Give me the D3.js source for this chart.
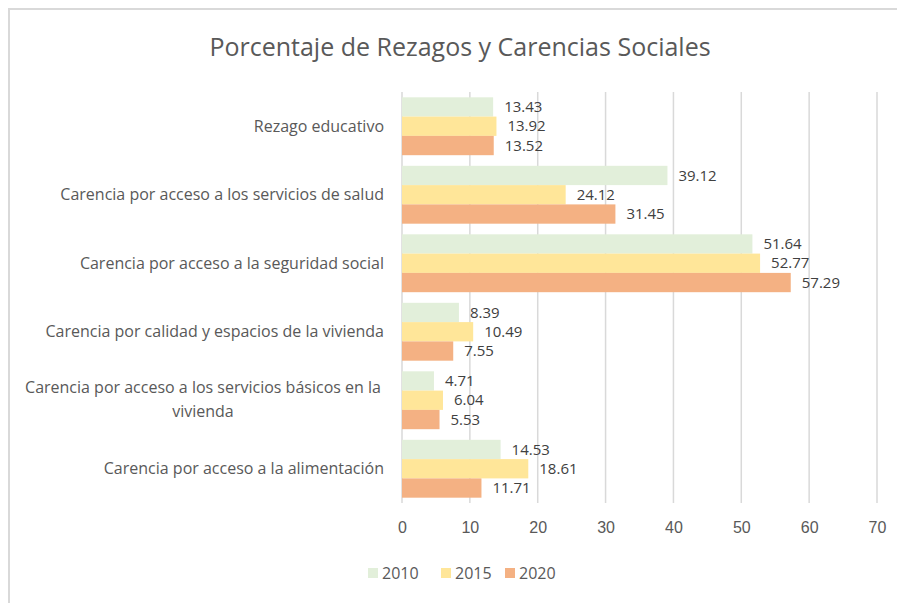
<!DOCTYPE html>
<html>
<head>
<meta charset="utf-8">
<script src="https://cdn.jsdelivr.net/npm/d3@7"></script>
<style>
  body { margin: 0; background: #fff; }
  svg { display: block; font-family: "Open Sans", Lato, sans-serif; }
</style>
</head>
<body>
<div id="chart"></div>
<script>
"use strict";

// Categories (top to bottom) and series values
const categories = [
    "Rezago educativo",
    "Carencia por acceso a los servicios de salud",
    "Carencia por acceso a la seguridad social",
    "Carencia por calidad y espacios de la vivienda",
    "Carencia por acceso a los servicios básicos en la vivienda",
    "Carencia por acceso a la alimentación"
];
const years = ["2010", "2015", "2020"];
const values2010 = [13.43, 39.12, 51.64, 8.39, 4.71, 14.53];
const values2015 = [13.92, 24.12, 52.77, 10.49, 6.04, 18.61];
const values2020 = [13.52, 31.45, 57.29, 7.55, 5.53, 11.71];
const xTicks = [0, 10, 20, 30, 40, 50, 60, 70];
const colors = ["#e2efda", "#ffe699", "#f4b183"];

const series = [values2010, values2015, values2020];
const width = 897, height = 603;

const svg = d3.select("#chart").append("svg")
    .attr("width", width)
    .attr("height", height);

// chart area border (only left and top visible in the picture)
svg.append("path")
    .attr("d", `M9,${height} V9 H${width}`)
    .attr("fill", "none")
    .attr("stroke", "#d9d9d9")
    .attr("stroke-width", 2);

svg.append("text")
    .attr("x", 460)
    .attr("y", 56)
    .attr("text-anchor", "middle")
    .attr("fill", "#595959")
    .attr("font-size", 25)
    .text("Porcentaje de Rezagos y Carencias Sociales");

const x = d3.scaleLinear([0, 70], [402, 877]);
const y = d3.scaleBand(categories, [92, 503]).paddingInner(0.155).paddingOuter(0.0775);
const ySub = d3.scaleBand(years, [0, y.bandwidth()]);

// gridlines
svg.append("g")
    .selectAll("line")
    .data(xTicks)
    .join("line")
    .attr("x1", d => x(d))
    .attr("x2", d => x(d))
    .attr("y1", 92)
    .attr("y2", 503)
    .attr("stroke", "#d9d9d9")
    .attr("stroke-width", 1.5);

// x axis labels
svg.append("g")
    .attr("transform", "translate(0,503)")
    .call(d3.axisBottom(x).tickValues(xTicks).tickSize(0).tickPadding(19))
    .call(g => g.select(".domain").remove())
    .call(g => g.selectAll("text")
        .attr("fill", "#595959")
        .attr("font-size", 16)
        .attr("font-family", null));

// bars
const groups = svg.append("g")
    .selectAll("g")
    .data(categories)
    .join("g")
    .attr("transform", d => `translate(0,${y(d)})`);

groups.selectAll("rect")
    .data((d, i) => years.map((yr, s) => ({ yr, s, v: series[s][i] })))
    .join("rect")
    .attr("x", x(0))
    .attr("y", d => ySub(d.yr))
    .attr("width", d => x(d.v) - x(0))
    .attr("height", ySub.bandwidth())
    .attr("fill", d => colors[d.s]);

groups.selectAll("text.val")
    .data((d, i) => years.map((yr, s) => ({ yr, s, v: series[s][i] })))
    .join("text")
    .attr("class", "val")
    .attr("x", d => x(d.v) + 11)
    .attr("y", d => ySub(d.yr) + ySub.bandwidth() / 2)
    .attr("dy", "0.35em")
    .attr("fill", "#404040")
    .attr("font-size", 15)
    .text(d => d.v.toFixed(2));

// category labels, long one wrapped in two lines centred on each other
const labelLines = d => d.length > 50
    ? ["Carencia por acceso a los servicios básicos en la", "vivienda"]
    : [d];

const catLabels = svg.append("g")
    .selectAll("text")
    .data(categories)
    .join("text")
    .attr("fill", "#595959")
    .attr("font-size", 16)
    .attr("text-anchor", "end")
    .attr("x", 384)
    .attr("y", d => y(d) + y.bandwidth() / 2);

catLabels.each(function(d) {
    const lines = labelLines(d);
    const t = d3.select(this);
    if (lines.length === 1) {
        t.attr("dy", "0.35em").text(d);
    } else {
        t.attr("text-anchor", "middle");
        lines.forEach((line, i) => {
            t.append("tspan")
                .attr("x", 203)
                .attr("dy", i === 0 ? "-0.45em" : "1.5em")
                .text(line);
        });
    }
});

// legend
const legend = svg.append("g")
    .attr("transform", "translate(368,573)");

const legendItem = legend.selectAll("g")
    .data(years)
    .join("g")
    .attr("transform", (d, i) => `translate(${[0, 73, 137][i]},0)`);

legendItem.append("rect")
    .attr("x", 0)
    .attr("y", -5)
    .attr("width", 10)
    .attr("height", 10)
    .attr("fill", (d, i) => colors[i]);

legendItem.append("text")
    .attr("x", 14)
    .attr("dy", "0.35em")
    .attr("fill", "#595959")
    .attr("font-size", 16)
    .text(d => d);
</script>
</body>
</html>
